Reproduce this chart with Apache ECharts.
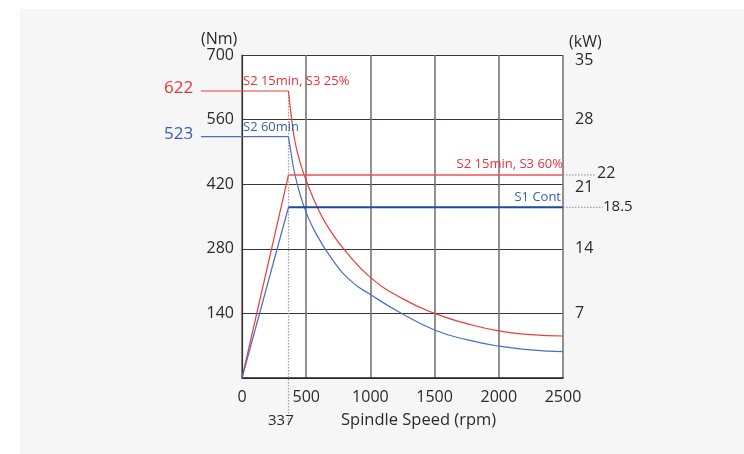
<!DOCTYPE html>
<html>
<head>
<meta charset="utf-8">
<script src="https://cdn.jsdelivr.net/npm/echarts@6/dist/echarts.min.js"></script>
<style>
html,body{margin:0;padding:0;background:#fff;}
#chart{width:744px;height:454px;}
</style>
</head>
<body>
<div id="chart"></div>
<script>
// ---- data ----
const speedTicks = [0, 500, 1000, 1500, 2000, 2500];
const torqueTicks = [0, 140, 280, 420, 560, 700];
const powerTicks = [0, 7, 14, 21, 28, 35];
const baseSpeedLabel = '337';
const cornerSpeed = 362;        // where the corner is actually drawn on the speed scale
const leaderLeftSpeed = -320;   // start of the left value leaders
const leaderRightSpeed = 2750;  // end of the right value leaders
const dropTorque = -105;        // bottom of the 337 dotted marker (Nm)

// S2 15min, S3 25% torque (Nm)
const redTorqueFlat = [[0, 622], [362, 622]];
const redTorqueCurve = [[362, 622], [385, 565], [413, 512], [450, 470], [500, 428], [600, 362], [687, 320], [800, 277], [1000, 218], [1250, 172], [1500, 140], [1750, 118], [2000, 102], [2250, 94], [2500, 91]];
// S2 60min torque (Nm)
const blueTorqueFlat = [[0, 523], [362, 523]];
const blueTorqueCurve = [[362, 523], [378, 495], [413, 440], [483, 371], [563, 320], [700, 258], [850, 210], [1000, 181], [1230, 142], [1500, 104], [1750, 83], [2000, 69], [2250, 61], [2500, 57]];
// power (kW)
const redPowerRise = [[0, 0], [362, 22]];
const redPowerFlat = [[362, 22], [2500, 22]];
const bluePowerRise = [[0, 0], [362, 18.5]];
const bluePowerFlat = [[362, 18.5], [2500, 18.5]];

const RED = '#ec3b3b';
const REDTXT = '#e8333a';
const BLUE = '#4a6fc0';
const BLUEDARK = '#1b4b9f';
const BLUETXT = '#3a60b0';
const FONT = '"Open Sans", "Noto Sans", sans-serif';

const chart = echarts.init(document.getElementById('chart'), null, {renderer: 'canvas'});

function line(data, color, width, yIdx, extra) {
  return Object.assign({
    type: 'line', data: data, yAxisIndex: yIdx, symbol: 'none', clip: false,
    lineStyle: {color: color, width: width}, animation: false, silent: true, z: 3
  }, extra || {});
}

const option = {
  backgroundColor: '#ffffff',
  animation: false,
  textStyle: {fontFamily: FONT},
  grid: {left: 242, right: 181, top: 55, bottom: 76, show: true, backgroundColor: '#ffffff', borderWidth: 0, containLabel: false},
  xAxis: {
    type: 'value', min: speedTicks[0], max: speedTicks[speedTicks.length - 1], interval: 500,
    axisLine: {show: true, onZero: false, lineStyle: {color: '#222', width: 1.5}},
    axisTick: {show: false},
    axisLabel: {margin: 11, fontSize: 16, color: '#2a2a2a', fontFamily: FONT, formatter: function (v) { return String(v); }},
    splitLine: {show: true, lineStyle: {color: '#7a7575', width: 1.6}}
  },
  yAxis: [{
    type: 'value', min: torqueTicks[0], max: torqueTicks[torqueTicks.length - 1], interval: 140,
    axisLine: {show: true, onZero: false, lineStyle: {color: '#333', width: 1.2}},
    axisTick: {show: false},
    axisLabel: {margin: 8, fontSize: 16, color: '#2a2a2a', fontFamily: FONT, showMinLabel: false},
    splitLine: {show: true, lineStyle: {color: '#3a3535', width: 1}}
  }, {
    type: 'value', min: powerTicks[0], max: powerTicks[powerTicks.length - 1], interval: 7, position: 'right',
    axisLine: {show: false}, axisTick: {show: false},
    axisLabel: {margin: 12, fontSize: 16, color: '#2a2a2a', fontFamily: FONT, showMinLabel: false,
      formatter: function (v) { return v === 35 ? '{d|35}' : (v === 21 ? '{e|21}' : String(v)); },
      rich: {d: {fontSize: 16, color: '#2a2a2a', padding: [10, 0, 0, 0]}, e: {fontSize: 16, color: '#2a2a2a', padding: [6, 0, 0, 0]}}},
    splitLine: {show: false}
  }],
  graphic: [
    {id: 'bg', type: 'rect', shape: {x: 20, y: 9, width: 724, height: 445}, style: {fill: '#f5f6f5'}, z: -10, silent: true},
    {id: 't1', type: 'text', left: 201, top: 31, style: {text: '(Nm)', fontSize: 16, fill: '#2a2a2a', fontFamily: FONT}, z: 10},
    {id: 't2', type: 'text', left: 569, top: 34, style: {text: '(kW)', fontSize: 16, fill: '#2a2a2a', fontFamily: FONT}, z: 10},
    {id: 't3', type: 'text', left: 341, top: 412, style: {text: 'Spindle Speed (rpm)', fontSize: 16.5, fill: '#2a2a2a', fontFamily: FONT}, z: 10},
    {id: 't4', type: 'text', left: 268, top: 413, style: {text: baseSpeedLabel, fontSize: 15, fill: '#2a2a2a', fontFamily: FONT}, z: 10},
    {id: 't5', type: 'text', left: 164, top: 80, style: {text: '622', fontSize: 17, fill: REDTXT, fontFamily: FONT}, z: 10},
    {id: 't6', type: 'text', left: 164, top: 126, style: {text: '523', fontSize: 17, fill: BLUETXT, fontFamily: FONT}, z: 10},
    {id: 't7', type: 'text', left: 597, top: 165, style: {text: '22', fontSize: 16, fill: '#2a2a2a', fontFamily: FONT}, z: 10},
    {id: 't8', type: 'text', left: 603, top: 199, style: {text: '18.5', fontSize: 15, fill: '#2a2a2a', fontFamily: FONT}, z: 10},
    {id: 't9', type: 'text', left: 243, top: 75, style: {text: 'S2 15min, S3 25%', fontSize: 13, fill: REDTXT, fontFamily: FONT}, z: 10},
    {id: 't10', type: 'text', left: 243, top: 121, style: {text: 'S2 60min', fontSize: 13, fill: BLUETXT, fontFamily: FONT}, z: 10},
    {id: 't11', type: 'text', right: 181, top: 158, style: {text: 'S2 15min, S3 60%', fontSize: 13, fill: REDTXT, fontFamily: FONT}, z: 10},
    {id: 't12', type: 'text', right: 183, top: 191, style: {text: 'S1 Cont', fontSize: 13, fill: BLUETXT, fontFamily: FONT}, z: 10}
  ],
  series: [
    line(redTorqueFlat, RED, 1.2, 0),
    line(blueTorqueFlat, BLUE, 1.2, 0),
    line(redTorqueCurve, RED, 1.2, 0, {smooth: 0.5}),
    line(blueTorqueCurve, BLUE, 1.2, 0, {smooth: 0.5}),
    line(redPowerRise, RED, 1.2, 1),
    line(bluePowerRise, BLUE, 1.2, 1),
    line(redPowerFlat, '#ef5050', 1.5, 1),
    line(bluePowerFlat, BLUEDARK, 1.8, 1)
  ]
};
chart.setOption(option);

// leader lines outside the plot, placed through the axes' scales
const tq = function (x, y) { return chart.convertToPixel({xAxisIndex: 0, yAxisIndex: 0}, [x, y]); };
const pw = function (x, y) { return chart.convertToPixel({xAxisIndex: 0, yAxisIndex: 1}, [x, y]); };
function seg(id, a, b, color, width, dash, z) {
  return {id: id, type: 'line', shape: {x1: a[0], y1: a[1], x2: b[0], y2: b[1]},
    style: {stroke: color, lineWidth: width, lineDash: dash || null}, z: z || 5, silent: true};
}
chart.setOption({graphic: [
  seg('l1', tq(leaderLeftSpeed, 622), tq(0, 622), RED, 1.2),
  seg('l2', tq(leaderLeftSpeed, 523), tq(0, 523), BLUE, 1.2),
  seg('l3', tq(cornerSpeed, 622), tq(cornerSpeed, dropTorque), '#a0a0a0', 1.2, [1.5, 1.5], 2),
  seg('l4', pw(2500, 22), pw(leaderRightSpeed, 22), '#8a8a8a', 1, [1.5, 1.5]),
  seg('l5', pw(2500, 18.5), pw(leaderRightSpeed + 60, 18.5), '#8a8a8a', 1, [1.5, 1.5])
]});
</script>
</body>
</html>
